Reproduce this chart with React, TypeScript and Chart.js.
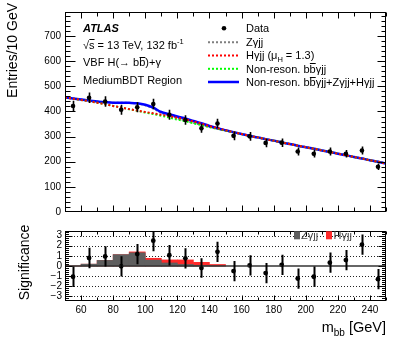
import React, { useEffect, useRef } from "react";
import { Chart, registerables } from "chart.js";
Chart.register(...registerables);

const FONT = '"Liberation Sans", Arial, Helvetica, sans-serif';

// ---------- data ----------
const binCenters = [55, 65, 75, 85, 95, 105, 115, 125, 135, 145, 155, 165, 175, 185, 195, 205, 215, 225, 235, 245];
const dataCounts = [422, 455, 440, 407, 417, 430, 387, 366, 333, 352, 303, 301, 275, 276, 241, 232, 241, 232, 245, 180];
const dataErrors = [21, 21, 21, 20, 20, 21, 20, 19, 18, 19, 17, 17, 17, 17, 16, 15, 16, 15, 16, 13];

const curveMass = [50, 55, 60, 65, 70, 75, 80, 85, 90, 95, 100, 105, 110, 115, 120, 125, 130, 135, 140, 145, 150,
  155, 160, 165, 170, 175, 180, 185, 190, 195, 200, 205, 210, 215, 220, 225, 230, 235, 240, 245, 250];
const bkgCurve = [456, 451, 446, 441, 435, 429, 422, 416, 409, 403, 396, 390, 383, 376, 368, 361, 353, 346, 338, 331, 324,
  317, 310, 303, 297, 290, 284, 277, 271, 264, 258, 252, 245, 239, 232, 226, 219, 213, 206, 200, 193];
const zCurve = [0, 0.5, 1.5, 3, 5, 8, 13, 19, 25, 29, 29, 22, 11, 8, 5, 3, 2, 1, 0.5, 0, 0,
  0, 0, 0, 0, 0, 0, 0, 0, 0, 0, 0, 0, 0, 0, 0, 0, 0, 0, 0, 0];
const hCurve = [0, 0, 0, 0, 0, 0, 0, 0, 0.5, 1, 2, 3, 4, 5.5, 7, 8, 7.5, 6, 4, 2.5, 1.5,
  0.8, 0.3, 0, 0, 0, 0, 0, 0, 0, 0, 0, 0, 0, 0, 0, 0, 0, 0, 0, 0];

const sigValues = [-1.06, 0.79, 0.94, -0.03, 1.18, 2.5, 1.06, 0.76, -0.2, 1.4, -0.5, 0.06, -0.7, 0.12, -1.24, -1.06, 0.33, 0.58, 2.1, -1.3];
const sigErrors = [1, 1, 1, 1, 1, 1.05, 1, 1, 0.97, 1, 1, 1, 1, 1, 1, 1, 1, 1, 1, 1];

const histCenters = [55, 65, 75, 85, 95, 105, 115, 125, 135, 145];
const zSig = [0, 0.18, 0.55, 1.12, 1.3, 0.58, 0.3, 0.15, 0.05, 0];
const hSig = [0, 0, 0, 0, 0.09, 0.18, 0.3, 0.45, 0.31, 0.15];

const yTicksUpper = [0, 100, 200, 300, 400, 500, 600, 700];
const xTicks = [60, 80, 100, 120, 140, 160, 180, 200, 220, 240];
const sigTicks = [-3, -2, -1, 0, 1, 2, 3];

// ---------- helpers ----------
type Seg = { t: string; s?: number; dy?: number; bar?: boolean; w?: string };

function richWidth(ctx: CanvasRenderingContext2D, segs: Seg[], base: number, style = "") {
  let w = 0;
  for (const g of segs) {
    ctx.font = `${g.w ?? style} ${g.s ?? base}px ${FONT}`;
    w += ctx.measureText(g.t).width;
  }
  return w;
}

function drawRich(ctx: CanvasRenderingContext2D, x: number, y: number, segs: Seg[], base: number, style = "") {
  let cx = x;
  ctx.textBaseline = "alphabetic";
  ctx.textAlign = "left";
  for (const g of segs) {
    const size = g.s ?? base;
    ctx.font = `${g.w ?? style} ${size}px ${FONT}`;
    const yy = y + (g.dy ?? 0);
    ctx.fillText(g.t, cx, yy);
    const w = ctx.measureText(g.t).width;
    if (g.bar) {
      ctx.beginPath();
      ctx.lineWidth = 1;
      const by = Math.round(yy - size * 0.86) + 0.5;
      ctx.moveTo(cx + 0.3, by);
      ctx.lineTo(cx + w, by);
      ctx.stroke();
    }
    cx += w;
  }
  return cx - x;
}

type FrameOpts = {
  yMajor: number[]; yMinorStep: number; yLo: number; yHi: number;
  lMaj: number; lMin: number; rMaj: number; rMin: number;
  xMajor: number[]; xMinorStep: number; xMaj: number; xMin: number;
};

function drawFrame(chart: any, o: FrameOpts) {
  const { ctx, chartArea: a, scales } = chart;
  const xs = scales.x, ys = scales.y;
  const L = Math.floor(a.left) + 0.5, R = Math.floor(a.right) - 0.5;
  const T = Math.floor(a.top) + 0.5, B = Math.floor(a.bottom) - 0.5;
  ctx.save();
  ctx.strokeStyle = "#000";
  ctx.lineWidth = 1;
  ctx.beginPath();
  const yMinor: number[] = [];
  for (let v = Math.ceil(o.yLo / o.yMinorStep) * o.yMinorStep; v <= o.yHi + 1e-9; v += o.yMinorStep) yMinor.push(v);
  for (const v of yMinor) {
    const y = Math.round(ys.getPixelForValue(v)) + 0.5;
    if (y < T || y > B) continue;
    ctx.moveTo(L, y); ctx.lineTo(L + o.lMin, y);
    ctx.moveTo(R, y); ctx.lineTo(R - o.rMin, y);
  }
  for (const v of o.yMajor) {
    const y = Math.round(ys.getPixelForValue(v)) + 0.5;
    if (y < T || y > B) continue;
    ctx.moveTo(L, y); ctx.lineTo(L + o.lMaj, y);
    ctx.moveTo(R, y); ctx.lineTo(R - o.rMaj, y);
  }
  for (let v = 50; v <= 250; v += o.xMinorStep) {
    const x = Math.round(xs.getPixelForValue(v)) + 0.5;
    ctx.moveTo(x, B); ctx.lineTo(x, B - o.xMin);
    ctx.moveTo(x, T); ctx.lineTo(x, T + o.xMin);
  }
  for (const v of o.xMajor) {
    const x = Math.round(xs.getPixelForValue(v)) + 0.5;
    ctx.moveTo(x, B); ctx.lineTo(x, B - o.xMaj);
    ctx.moveTo(x, T); ctx.lineTo(x, T + o.xMaj);
  }
  ctx.stroke();
  ctx.strokeRect(L, T, R - L, B - T);
  ctx.restore();
}

function drawErrorBars(chart: any) {
  const { ctx, chartArea: a } = chart;
  chart.data.datasets.forEach((ds: any, di: number) => {
    if (!ds.errors) return;
    const meta = chart.getDatasetMeta(di);
    const xs = chart.scales[meta.xAxisID];
    const ys = chart.scales[meta.yAxisID];
    ctx.save();
    ctx.beginPath();
    ctx.rect(a.left, a.top, a.right - a.left, a.bottom - a.top);
    ctx.clip();
    ctx.strokeStyle = "#000";
    ctx.lineWidth = ds.errWidth;
    ctx.beginPath();
    ds.data.forEach((p: any, i: number) => {
      const x = Math.round(xs.getPixelForValue(p.x)) + 0.5;
      ctx.moveTo(x, ys.getPixelForValue(p.y - ds.errors[i]));
      ctx.lineTo(x, ys.getPixelForValue(p.y + ds.errors[i]));
    });
    ctx.stroke();
    ctx.restore();
  });
}

const gam = "\u03b3";

export default function App() {
  const r1 = useRef<HTMLCanvasElement>(null);
  const r2 = useRef<HTMLCanvasElement>(null);

  useEffect(() => {
    const totalCurve = curveMass.map((m, i) => ({ x: m, y: bkgCurve[i] + zCurve[i] + hCurve[i] }));
    const zLine = curveMass.map((m, i) => ({ x: m, y: bkgCurve[i] + zCurve[i] }));
    const hLine = curveMass.map((m, i) => ({ x: m, y: bkgCurve[i] + hCurve[i] }));
    const bLine = curveMass.map((m, i) => ({ x: m, y: bkgCurve[i] }));
    const pts = binCenters.map((m, i) => ({ x: m, y: dataCounts[i] }));

    const lineBase = { type: "line", pointRadius: 0, cubicInterpolationMode: "monotone", fill: false };

    const upperPlugin = {
      id: "upperDeco",
      afterDatasetsDraw(chart: any) { drawErrorBars(chart); },
      afterDraw(chart: any) {
        drawFrame(chart, {
          yMajor: yTicksUpper, yMinorStep: 20, yLo: 0, yHi: 796, lMaj: 10, lMin: 5, rMaj: 8, rMin: 4,
          xMajor: xTicks, xMinorStep: 10, xMaj: 6, xMin: 4,
        });
        const ctx: CanvasRenderingContext2D = chart.ctx;
        ctx.save();
        ctx.fillStyle = "#000";
        ctx.strokeStyle = "#000";
        // y title
        ctx.save();
        ctx.translate(13, 3);
        ctx.rotate(-Math.PI / 2);
        ctx.font = `14px ${FONT}`;
        ctx.textAlign = "right";
        ctx.textBaseline = "middle";
        ctx.fillText("Entries/10 GeV", 0, 0);
        ctx.restore();
        // ATLAS block
        drawRich(ctx, 83, 32.3, [{ t: "ATLAS", w: "italic bold" }], 11);
        drawRich(ctx, 83, 48.5, [
          { t: "\u221a" }, { t: "s", bar: true }, { t: " = 13 TeV, 132 fb" }, { t: "-1", s: 7.5, dy: -4.5 },
        ], 11);
        drawRich(ctx, 83, 66.3, [{ t: "VBF H(\u2192 b" }, { t: "b", bar: true }, { t: ")+" + gam }], 11);
        drawRich(ctx, 83, 84, [{ t: "MediumBDT Region" }], 11);
        // legend
        const rows = [32.3, 46.2, 59.4, 72.8, 86];
        const tx = 246;
        // data marker
        ctx.beginPath();
        ctx.arc(224, rows[0] - 4, 2.3, 0, Math.PI * 2);
        ctx.fill();
        const sample = (y: number, color: string, dash: number[], w: number) => {
          ctx.save();
          ctx.strokeStyle = color;
          ctx.lineWidth = w;
          ctx.setLineDash(dash);
          ctx.beginPath();
          ctx.moveTo(208, y);
          ctx.lineTo(239, y);
          ctx.stroke();
          ctx.restore();
        };
        sample(rows[1] - 4, "#7f7f7f", [2, 2], 2);
        sample(rows[2] - 4, "#ff0000", [2, 2], 2);
        sample(rows[3] - 4, "#00ff00", [2, 2], 2);
        sample(rows[4] - 4, "#0000ff", [], 2.5);
        drawRich(ctx, tx, rows[0], [{ t: "Data" }], 11);
        drawRich(ctx, tx, rows[1], [{ t: "Z" + gam + "jj" }], 11);
        drawRich(ctx, tx, rows[2], [{ t: "H" + gam + "jj (\u03bc" }, { t: "H", s: 7.5, dy: 2.5 }, { t: " = 1.3)" }], 11);
        drawRich(ctx, tx, rows[3], [{ t: "Non-reson. b" }, { t: "b", bar: true }, { t: gam + "jj" }], 11);
        drawRich(ctx, tx, rows[4], [{ t: "Non-reson. b" }, { t: "b", bar: true }, { t: gam + "jj+Z" + gam + "jj+H" + gam + "jj" }], 11);
        ctx.restore();
      },
    };

    const c1 = new Chart(r1.current!, {
      type: "line",
      data: {
        datasets: [
          { ...lineBase, label: "Zyjj", data: zLine, borderColor: "#7f7f7f", borderWidth: 2, borderDash: [2, 2], order: 6 },
          { ...lineBase, label: "total", data: totalCurve, borderColor: "#0000ff", borderWidth: 2.5, order: 5 },
          { ...lineBase, label: "bkg", data: bLine, borderColor: "#00ff00", borderWidth: 2, borderDash: [2, 2], order: 4 },
          { ...lineBase, label: "Hyjj", data: hLine, borderColor: "#ff0000", borderWidth: 2, borderDash: [2, 2], order: 3 },
          {
            type: "scatter", label: "Data", data: pts, pointRadius: 2.3, pointBackgroundColor: "#000",
            pointBorderWidth: 0, borderColor: "#000", order: 0, errors: dataErrors, errWidth: 1.6,
          } as any,
        ] as any,
      },
      options: {
        responsive: false,
        animation: false,
        events: [],
        layout: { padding: { left: 0, right: 21, top: 12, bottom: 0 } },
        plugins: { legend: { display: false }, tooltip: { enabled: false } },
        scales: {
          x: {
            type: "linear", min: 50, max: 250, offset: false,
            grid: { display: false, drawTicks: false }, border: { display: false },
            ticks: { display: false },
            afterFit: (s: any) => { s.height = 6; },
          },
          y: {
            type: "linear", min: 0, max: 796,
            grid: { display: false, drawTicks: false }, border: { display: false },
            afterBuildTicks: (s: any) => { s.ticks = yTicksUpper.map((v) => ({ value: v })); },
            ticks: { font: { family: FONT, size: 10 }, color: "#000", padding: 4, autoSkip: false },
            afterFit: (s: any) => { s.width = 65; },
          },
        },
      } as any,
      plugins: [upperPlugin as any],
    });

    const sigPts = binCenters.map((m, i) => ({ x: m, y: sigValues[i] }));
    const redBars = histCenters.map((m, i) => ({ x: m, y: zSig[i] + hSig[i] }));
    const grayBars = histCenters.map((m, i) => ({ x: m, y: zSig[i] }));

    const lowerPlugin = {
      id: "lowerDeco",
      beforeDatasetsDraw(chart: any) {
        const { ctx, chartArea: a, scales } = chart;
        ctx.save();
        ctx.strokeStyle = "#222";
        ctx.lineWidth = 1;
        ctx.setLineDash([1, 2]);
        ctx.beginPath();
        for (const v of sigTicks) {
          if (v === 0) continue;
          const y = Math.round(scales.y.getPixelForValue(v)) + 0.5;
          ctx.moveTo(a.left, y);
          ctx.lineTo(a.right, y);
        }
        ctx.stroke();
        ctx.restore();
      },
      afterDatasetsDraw(chart: any) {
        const { ctx, chartArea: a, scales } = chart;
        ctx.save();
        ctx.strokeStyle = "#333";
        ctx.lineWidth = 1.6;
        const y0 = scales.y.getPixelForValue(0);
        ctx.beginPath();
        ctx.moveTo(a.left, y0);
        ctx.lineTo(a.right, y0);
        ctx.stroke();
        ctx.restore();
        drawErrorBars(chart);
      },
      afterDraw(chart: any) {
        drawFrame(chart, {
          yMajor: sigTicks, yMinorStep: 0.2, yLo: -3.45, yHi: 3.45, lMaj: 7, lMin: 3.5, rMaj: 7, rMin: 3.5,
          xMajor: xTicks, xMinorStep: 10, xMaj: 5, xMin: 3,
        });
        const ctx: CanvasRenderingContext2D = chart.ctx;
        ctx.save();
        ctx.fillStyle = "#000";
        ctx.strokeStyle = "#000";
        // y title
        ctx.save();
        ctx.translate(25, 40.5);
        ctx.rotate(-Math.PI / 2);
        ctx.font = `14px ${FONT}`;
        ctx.textAlign = "center";
        ctx.textBaseline = "middle";
        ctx.fillText("Significance", 0, 0);
        ctx.restore();
        // x title
        const segs: Seg[] = [{ t: "m" }, { t: "bb", s: 10, dy: 3.5 }, { t: " [GeV]" }];
        const w = richWidth(ctx, segs, 14.5);
        drawRich(ctx, 386 - w, 110, segs, 14.5);
        // legend
        ctx.fillStyle = "#5f5f5f";
        ctx.fillRect(294, 9.3, 6, 8);
        ctx.fillStyle = "#ff2a2a";
        ctx.fillRect(326, 9.3, 6, 8);
        ctx.fillStyle = "#444";
        drawRich(ctx, 301, 17, [{ t: "Z" + gam + "jj" }], 11);
        drawRich(ctx, 333.5, 17, [{ t: "H" + gam + "jj" }], 11);
        ctx.restore();
      },
    };

    const c2 = new Chart(r2.current!, {
      type: "bar",
      data: {
        datasets: [
          {
            type: "bar", label: "H", data: redBars, backgroundColor: "#ff2a2a", borderWidth: 0,
            barPercentage: 1, categoryPercentage: 1, grouped: false, order: 2,
          },
          {
            type: "bar", label: "Z", data: grayBars, backgroundColor: "#5f5f5f", borderWidth: 0,
            barPercentage: 1, categoryPercentage: 1, grouped: false, order: 1,
          },
          {
            type: "scatter", label: "sig", data: sigPts, pointRadius: 2.4, pointBackgroundColor: "#000",
            pointBorderWidth: 0, borderColor: "#000", order: 0, errors: sigErrors, errWidth: 2,
          } as any,
        ] as any,
      },
      options: {
        responsive: false,
        animation: false,
        events: [],
        layout: { padding: { left: 0, right: 21, top: 3, bottom: 0 } },
        plugins: { legend: { display: false }, tooltip: { enabled: false } },
        scales: {
          x: {
            type: "linear", min: 50, max: 250, offset: false,
            grid: { display: false, drawTicks: false }, border: { display: false },
            afterBuildTicks: (s: any) => { s.ticks = xTicks.map((v) => ({ value: v })); },
            ticks: { font: { family: FONT, size: 10 }, color: "#000", padding: 3, autoSkip: false, maxRotation: 0 },
            afterFit: (s: any) => { s.height = 43; },
          },
          y: {
            type: "linear", min: -3.45, max: 3.45,
            grid: { display: false, drawTicks: false }, border: { display: false },
            afterBuildTicks: (s: any) => { s.ticks = sigTicks.map((v) => ({ value: v })); },
            ticks: {
              font: { family: FONT, size: 10 }, color: "#000", padding: 3, autoSkip: false,
              callback: (v: number) => (v < 0 ? "\u2212" + Math.abs(v) : String(v)),
            },
            afterFit: (s: any) => { s.width = 65; },
          },
        },
      } as any,
      plugins: [lowerPlugin as any],
    });

    return () => { c1.destroy(); c2.destroy(); };
  }, []);

  return (
    <div style={{ position: "absolute", left: 0, top: 0, width: 407, height: 344, background: "#fff" }}>
      <canvas ref={r1} width={407} height={222} style={{ position: "absolute", left: 0, top: 0 }} />
      <canvas ref={r2} width={407} height={122} style={{ position: "absolute", left: 0, top: 222 }} />
    </div>
  );
}
